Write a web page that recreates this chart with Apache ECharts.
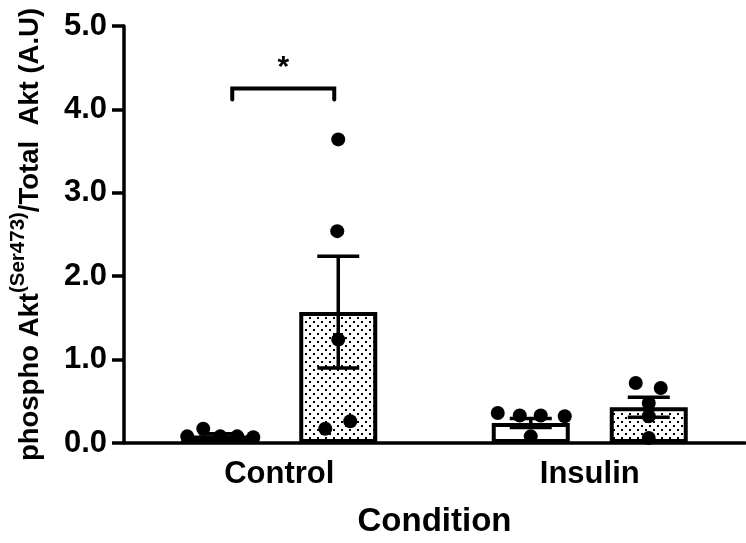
<!DOCTYPE html>
<html>
<head>
<meta charset="utf-8">
<script src="https://cdn.jsdelivr.net/npm/echarts@6/dist/echarts.min.js"></script>
<style>
  html, body { margin: 0; padding: 0; background: #fff; }
  #chart { width: 746px; height: 543px; }
</style>
</head>
<body>
<div id="chart"></div>
<script>
// ---- data ----
const categories = ['Control', 'Insulin'];
const yTicks = [0, 1, 2, 3, 4, 5];

// group means and SEM (left bar = open, right bar = stippled)
const openMean = [0.09, 0.24];
const openSem = [0.02, 0.055];
const dottedMean = [1.57, 0.43];
const dottedSem = [0.67, 0.12];

// individual replicates
const openControlPts = [0.08, 0.17, 0.08, 0.08, 0.07];
const openInsulinPts = [0.36, 0.33, 0.08, 0.33, 0.32];
const dottedControlPts = [3.64, 2.54, 1.24, 0.26, 0.17];
const dottedInsulinPts = [0.72, 0.66, 0.48, 0.32, 0.06];

// significance annotation between the two Control bars
const sigLevel = 4.25;
const sigLegDrop = 0.13;
const sigText = '*';

// ---- layout ----
const FONT = "'Liberation Sans', Arial, sans-serif";
const BAR_W = 78;
const BAR_GAP = 40;
const HALF = (BAR_W + BAR_GAP) / 2;
const LINE_W = 3.5;
const CAP_W = 42;
const DOT_R = 7;
// horizontal spread of replicate dots (px from bar centre)
const openControlJit = [-33, -17, 0, 17, 33];
const openInsulinJit = [-33, -11, 0, 10, 34];
const dottedControlJit = [0, -1, 0, 12, -13];
const dottedInsulinJit = [-13, 12, 0, 0, 0];
const SIG_X = [-47, 55];

function stipple() {
  const c = document.createElement('canvas');
  c.width = 8; c.height = 8;
  const g = c.getContext('2d');
  g.fillStyle = '#fff';
  g.fillRect(0, 0, 8, 8);
  g.fillStyle = '#000';
  g.fillRect(1, 1, 2, 2);
  g.fillRect(5, 5, 2, 2);
  return c;
}

function errorBarSeries(means, sems, shift) {
  return {
    type: 'custom',
    z: 5,
    data: means.map((m, i) => [i, m, sems[i]]),
    renderItem: function (params, api) {
      const i = api.value(0), m = api.value(1), s = api.value(2);
      const top = api.coord([i, m + s]);
      const bot = api.coord([i, m - s]);
      const x = top[0] + shift;
      const style = { stroke: '#000', lineWidth: LINE_W, fill: null };
      return {
        type: 'group',
        children: [
          { type: 'line', shape: { x1: x, y1: top[1], x2: x, y2: bot[1] }, style },
          { type: 'line', shape: { x1: x - CAP_W / 2, y1: top[1], x2: x + CAP_W / 2, y2: top[1] }, style },
          { type: 'line', shape: { x1: x - CAP_W / 2, y1: bot[1], x2: x + CAP_W / 2, y2: bot[1] }, style }
        ]
      };
    }
  };
}

function dotSeries(catIndex, pts, jit, shift) {
  return {
    type: 'custom',
    z: 6,
    data: pts.map((v, k) => [catIndex, v, k]),
    renderItem: function (params, api) {
      const p = api.coord([api.value(0), api.value(1)]);
      return {
        type: 'circle',
        shape: { cx: p[0] + shift + jit[api.value(2)], cy: p[1], r: DOT_R },
        style: { fill: '#000' }
      };
    }
  };
}

const bracketSeries = {
  type: 'custom',
  z: 7,
  data: [[0, sigLevel]],
  renderItem: function (params, api) {
    const p = api.coord([api.value(0), api.value(1)]);
    const legEnd = api.coord([api.value(0), api.value(1) - sigLegDrop])[1];
    const x1 = p[0] + SIG_X[0], x2 = p[0] + SIG_X[1];
    return {
      type: 'group',
      children: [
        {
          type: 'polyline',
          shape: { points: [[x1, legEnd], [x1, p[1]], [x2, p[1]], [x2, legEnd]] },
          style: { stroke: '#000', lineWidth: 4, fill: null, lineJoin: 'miter', lineCap: 'round' }
        },
        {
          type: 'text',
          style: {
            text: sigText, x: (x1 + x2) / 2, y: p[1] - 6,
            align: 'center', verticalAlign: 'bottom',
            font: 'bold 30px ' + FONT, fill: '#000'
          }
        }
      ]
    };
  }
};

const chart = echarts.init(document.getElementById('chart'), null, { renderer: 'canvas' });

chart.setOption({
  animation: false,
  backgroundColor: '#fff',
  grid: { left: 123, right: 1, top: 26, bottom: 98, containLabel: false },
  xAxis: {
    type: 'category',
    data: categories,
    name: 'Condition',
    nameLocation: 'middle',
    nameGap: 62,
    nameTextStyle: { fontFamily: FONT, fontWeight: 'bold', fontSize: 33, color: '#000' },
    axisLine: { lineStyle: { color: '#000', width: LINE_W } },
    axisTick: { alignWithLabel: true, length: 12, lineStyle: { color: '#000', width: LINE_W } },
    axisLabel: { margin: 16, fontFamily: FONT, fontWeight: 'bold', fontSize: 31, color: '#000' },
    splitLine: { show: false }
  },
  yAxis: {
    type: 'value',
    min: yTicks[0],
    max: yTicks[yTicks.length - 1],
    interval: 1,
    name: '{m|phospho Akt}{s|(Ser473)}{m|/Total  Akt (A.U)}',
    nameLocation: 'middle',
    nameRotate: 90,
    nameGap: 80,
    nameTextStyle: {
      rich: {
        m: { fontFamily: FONT, fontWeight: 'bold', fontSize: 27.5, color: '#000', verticalAlign: 'bottom', lineHeight: 36 },
        s: { fontFamily: FONT, fontWeight: 'bold', fontSize: 20.5, color: '#000', verticalAlign: 'top', lineHeight: 36 }
      }
    },
    axisLine: { show: true, lineStyle: { color: '#000', width: LINE_W } },
    axisTick: { show: true, length: 12, lineStyle: { color: '#000', width: LINE_W } },
    axisLabel: {
      margin: 17, fontFamily: FONT, fontWeight: 'bold', fontSize: 31, color: '#000',
      formatter: v => v.toFixed(1)
    },
    splitLine: { show: false }
  },
  series: [
    {
      type: 'bar',
      data: openMean,
      barWidth: BAR_W,
      barGap: (BAR_GAP / BAR_W * 100) + '%',
      itemStyle: { color: '#fff', borderColor: '#000', borderWidth: 4 },
      z: 2
    },
    {
      type: 'bar',
      data: dottedMean,
      barWidth: BAR_W,
      itemStyle: { color: { image: stipple(), repeat: 'repeat' }, borderColor: '#000', borderWidth: 4 },
      z: 2
    },
    errorBarSeries(openMean, openSem, -HALF),
    errorBarSeries(dottedMean, dottedSem, HALF),
    dotSeries(0, openControlPts, openControlJit, -HALF),
    dotSeries(1, openInsulinPts, openInsulinJit, -HALF),
    dotSeries(0, dottedControlPts, dottedControlJit, HALF),
    dotSeries(1, dottedInsulinPts, dottedInsulinJit, HALF),
    bracketSeries
  ]
});
</script>
</body>
</html>
